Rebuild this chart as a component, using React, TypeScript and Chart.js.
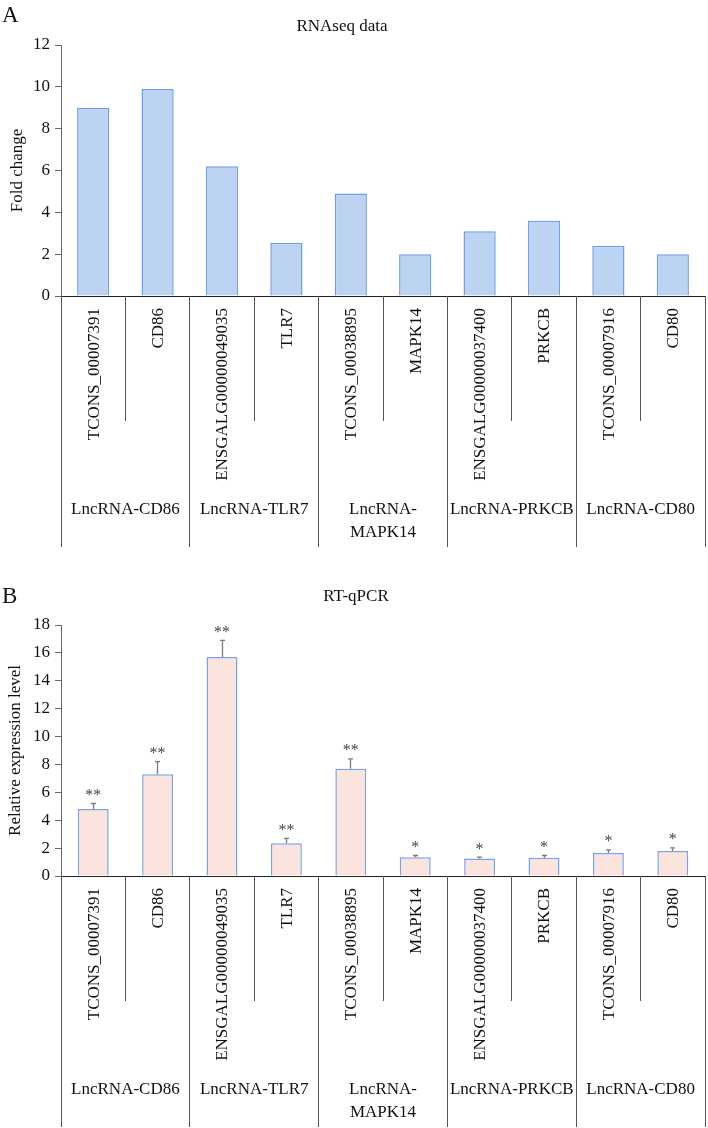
import React, { useEffect, useRef } from "react";
import { Chart, registerables } from "chart.js";

Chart.register(...registerables);

const FONT = "'Liberation Serif', 'Times New Roman', Times, serif";
const TEXT = "#111";

// ---------- data ----------
const categories = [
  "TCONS_00007391",
  "CD86",
  "ENSGALG00000049035",
  "TLR7",
  "TCONS_00038895",
  "MAPK14",
  "ENSGALG00000037400",
  "PRKCB",
  "TCONS_00007916",
  "CD80",
];

const groupLabels = [
  ["LncRNA-CD86"],
  ["LncRNA-TLR7"],
  ["LncRNA-", "MAPK14"],
  ["LncRNA-PRKCB"],
  ["LncRNA-CD80"],
];

const rnaseqFoldChange = [9.0, 9.9, 6.2, 2.55, 4.9, 2.0, 3.1, 3.6, 2.4, 2.0];

const qpcrLevel = [4.8, 7.3, 15.7, 2.35, 7.7, 1.35, 1.25, 1.3, 1.65, 1.8];
const qpcrError = [0.4, 0.9, 1.2, 0.35, 0.7, 0.12, 0.1, 0.17, 0.22, 0.22];
const qpcrSignificance = ["**", "**", "**", "**", "**", "*", "*", "*", "*", "*"];

const yAxisA = { min: 0, max: 12, step: 2, title: "Fold change" };
const yAxisB = { min: 0, max: 18, step: 2, title: "Relative expression level" };

// ---------- helpers ----------
function align(p: number) {
  return Math.round(p + 0.5) - 0.5;
}

function makeAxisPlugin(id: string, panel: string, title: string, titleX: number, titleY: number, letterY: number) {
  return {
    id,
    afterDraw(chart: any) {
      const { ctx, chartArea, scales } = chart;
      const xs = scales.x;
      const axisY = chartArea.bottom;
      const n = categories.length;
      ctx.save();

      // panel letter
      ctx.fillStyle = TEXT;
      ctx.font = `23px ${FONT}`;
      ctx.textAlign = "left";
      ctx.textBaseline = "alphabetic";
      ctx.fillText(panel, 2, letterY);

      // title
      ctx.font = `17px ${FONT}`;
      ctx.textAlign = "center";
      ctx.textBaseline = "middle";
      ctx.fillStyle = TEXT;
      ctx.fillText(title, titleX, titleY);

      // divider lines below the axis
      ctx.strokeStyle = "#555";
      ctx.lineWidth = 1;
      for (let k = 0; k <= n; k++) {
        let bx: number;
        if (k === 0) bx = chartArea.left;
        else if (k === n) bx = chartArea.right;
        else bx = (xs.getPixelForValue(k - 1) + xs.getPixelForValue(k)) / 2;
        const len = k % 2 === 0 ? 251 : 125;
        const px = align(bx);
        ctx.beginPath();
        ctx.moveTo(px, axisY);
        ctx.lineTo(px, axisY + len);
        ctx.stroke();
      }

      // rotated category labels
      ctx.fillStyle = TEXT;
      ctx.font = `17px ${FONT}`;
      for (let i = 0; i < n; i++) {
        const cx = xs.getPixelForValue(i) + 1;
        ctx.save();
        ctx.translate(cx, axisY + 12);
        ctx.rotate(-Math.PI / 2);
        ctx.textAlign = "right";
        ctx.textBaseline = "middle";
        ctx.fillText(categories[i], 0, 0);
        ctx.restore();
      }

      // group labels
      ctx.textAlign = "center";
      ctx.textBaseline = "middle";
      groupLabels.forEach((lines, g) => {
        const cx = (xs.getPixelForValue(2 * g) + xs.getPixelForValue(2 * g + 1)) / 2;
        lines.forEach((line, j) => {
          ctx.fillText(line, cx, axisY + 214 + j * 23);
        });
      });

      ctx.restore();
    },
  };
}

const errorBarPlugin = {
  id: "errorBars",
  afterDatasetsDraw(chart: any) {
    const { ctx, scales } = chart;
    const ys = scales.y;
    const meta = chart.getDatasetMeta(0);
    ctx.save();
    meta.data.forEach((bar: any, i: number) => {
      const x = align(bar.x);
      const y0 = ys.getPixelForValue(qpcrLevel[i]);
      const y1 = ys.getPixelForValue(qpcrLevel[i] + qpcrError[i]);
      ctx.strokeStyle = "#7a7a7a";
      ctx.lineWidth = 1.3;
      ctx.beginPath();
      ctx.moveTo(x, y0);
      ctx.lineTo(x, y1);
      ctx.moveTo(x - 2.5, y1);
      ctx.lineTo(x + 2.5, y1);
      ctx.stroke();
      ctx.fillStyle = "#444";
      ctx.font = `16px ${FONT}`;
      ctx.textAlign = "center";
      ctx.textBaseline = "alphabetic";
      ctx.fillText(qpcrSignificance[i], bar.x, y1 - 3.5);
    });
    ctx.restore();
  },
};

function yScale(cfg: { min: number; max: number; step: number; title: string }, titlePad: number) {
  return {
    min: cfg.min,
    max: cfg.max,
    ticks: {
      stepSize: cfg.step,
      color: TEXT,
      padding: 5,
      font: { family: FONT, size: 17 },
    },
    grid: {
      display: true,
      drawOnChartArea: false,
      drawTicks: true,
      tickLength: 6,
      color: "#666",
      lineWidth: 1,
    },
    border: { display: true, color: "#666", width: 1 },
    title: {
      display: true,
      text: cfg.title,
      color: TEXT,
      font: { family: FONT, size: 17 },
      padding: { top: titlePad, bottom: 0 },
    },
    afterFit: (s: any) => {
      s.width = 61;
    },
  };
}

const xScale = {
  ticks: { display: false },
  grid: { display: false, drawTicks: false },
  border: { display: true, color: "#222", width: 1 },
};

export default function App() {
  const refA = useRef<HTMLCanvasElement | null>(null);
  const refB = useRef<HTMLCanvasElement | null>(null);

  useEffect(() => {
    const chartA = new Chart(refA.current as HTMLCanvasElement, {
      type: "bar",
      data: {
        labels: categories,
        datasets: [
          {
            data: rnaseqFoldChange,
            backgroundColor: "#bdd3f2",
            borderColor: "#6f9de6",
            borderWidth: 1.5,
            barPercentage: 0.5,
            categoryPercentage: 1.0,
          },
        ],
      },
      options: {
        responsive: false,
        animation: false,
        devicePixelRatio: 1,
        layout: { padding: { top: 45, left: 0, right: 3, bottom: 264 } },
        plugins: { legend: { display: false }, tooltip: { enabled: false }, title: { display: false } },
        scales: { x: xScale as any, y: yScale(yAxisA, 7) as any },
      },
      plugins: [makeAxisPlugin("axisA", "A", "RNAseq data", 342, 27, 22)],
    });

    const chartB = new Chart(refB.current as HTMLCanvasElement, {
      type: "bar",
      data: {
        labels: categories,
        datasets: [
          {
            data: qpcrLevel,
            backgroundColor: "#fbe4de",
            borderColor: "#79a2e6",
            borderWidth: 1.5,
            barPercentage: 0.48,
            categoryPercentage: 1.0,
          },
        ],
      },
      options: {
        responsive: false,
        animation: false,
        devicePixelRatio: 1,
        layout: { padding: { top: 65, left: 0, right: 3, bottom: 252 } },
        plugins: { legend: { display: false }, tooltip: { enabled: false }, title: { display: false } },
        scales: { x: xScale as any, y: yScale(yAxisB, 5) as any },
      },
      plugins: [makeAxisPlugin("axisB", "B", "RT-qPCR", 356, 37, 43), errorBarPlugin],
    });

    return () => {
      chartA.destroy();
      chartB.destroy();
    };
  }, []);

  return (
    <div style={{ position: "absolute", left: 0, top: 0, width: 708, height: 1128, background: "#fff" }}>
      <canvas
        ref={refA}
        width={708}
        height={560}
        style={{ position: "absolute", left: 0, top: 0, width: 708, height: 560, display: "block" }}
      />
      <canvas
        ref={refB}
        width={708}
        height={568}
        style={{ position: "absolute", left: 0, top: 560, width: 708, height: 568, display: "block" }}
      />
    </div>
  );
}
